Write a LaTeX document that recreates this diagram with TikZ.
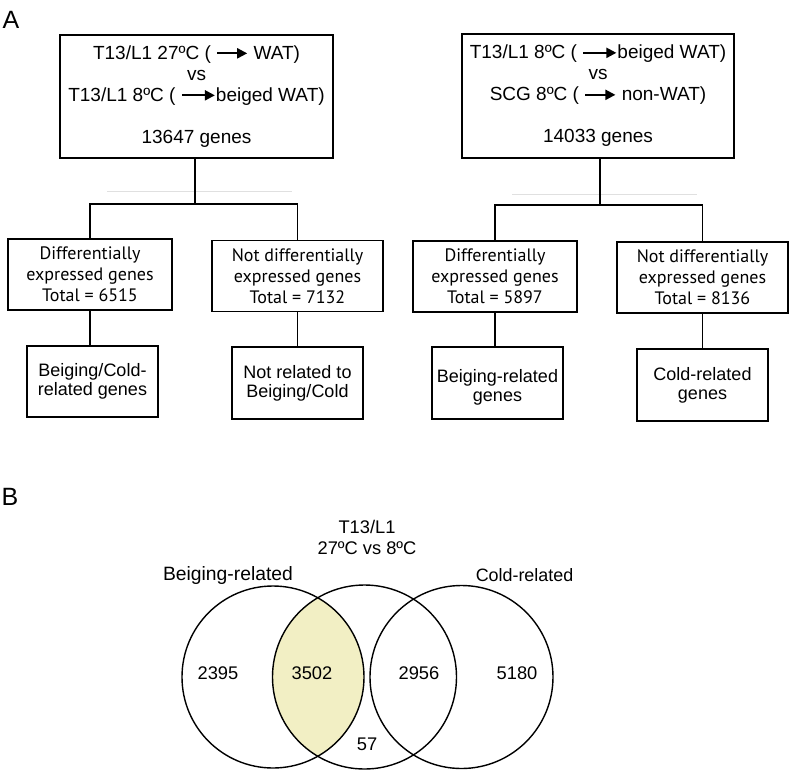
\documentclass[tikz,border=0pt]{standalone}
\usepackage{fontspec}
\setmainfont{Liberation Sans}
\newfontfamily\myr{PT Sans}
\usetikzlibrary{arrows.meta}
\definecolor{lens}{RGB}{242,239,196}
\newcommand\rarr[1]{\tikz[baseline=-0.32em]\draw[line width=2.1pt,-{Triangle[length=10pt,width=10pt]}] (0pt,0pt)--(#1,0pt);}
\tikzset{
  topbox/.style={draw,line width=1.4pt,inner sep=0pt,align=center,font=\fontsize{19}{21}\selectfont},
  midbox/.style={draw,line width=1.4pt,inner sep=0pt,align=center,font=\myr\fontsize{18}{21}\selectfont,minimum width=164pt,minimum height=71pt},
  botbox/.style={draw,line width=1.4pt,inner sep=0pt,align=center,font=\fontsize{18}{19}\selectfont,minimum width=131pt,minimum height=72pt},
  conn/.style={line width=1.4pt},
  faint/.style={line width=0.8pt,black!12},
  venn/.style={line width=1.4pt},
  vtext/.style={font=\fontsize{18.3}{21}\selectfont},
  panel/.style={font=\fontsize{25}{25}\selectfont}
}
\begin{document}
\begin{tikzpicture}[x=1pt,y=-1pt]
\useasboundingbox (0,0) rectangle (790,772);
\node[panel] (pa) at (11,20) {A};
\node[panel] (pb) at (10,497) {B};
% top boxes
\node[topbox,minimum width=273pt,minimum height=123pt] (tl) at (196.5,96.5)
 {T13/L1 27ºC ( \rarr{30pt} WAT)\\vs\\T13/L1 8ºC ( \rarr{33pt}beiged WAT)\\[21pt]13647 genes};
\node[topbox,minimum width=272pt,minimum height=124pt] (tr) at (598,96)
 {T13/L1 8ºC ( \rarr{33pt}beiged WAT)\\vs\\SCG 8ºC ( \rarr{30pt} non-WAT)\\[21pt]14033 genes};
% faint lines
\draw[faint] (107,191) coordinate (fa1) -- (292,191) coordinate (fa2);
\draw[faint] (512,194) coordinate (fb1) -- (697,194) coordinate (fb2);
% middle boxes
\node[midbox] (dl) at (90,274.5) {Differentially\\expressed genes\\Total = 6515};
\node[midbox,minimum width=171pt] (nl) at (297.5,276) {Not differentially\\expressed genes\\Total = 7132};
\node[midbox] (dr) at (495,276.5) {Differentially\\expressed genes\\Total = 5897};
\node[midbox,minimum width=171pt] (nr) at (702.5,277.5) {Not differentially\\expressed genes\\Total = 8136};
% bottom boxes
\node[botbox,minimum height=71pt] (bl1) at (92.5,381.5) {Beiging/Cold-\\related genes};
\node[botbox] (bl2) at (297.5,383) {Not related to\\Beiging/Cold};
\node[botbox] (br1) at (497.5,383) {};
\node[align=center,inner sep=0pt,font=\fontsize{18}{19}\selectfont] (br1t) at (497.5,387.5) {Beiging-related\\genes};
\node[botbox] (br2) at (702.5,385) {Cold-related\\genes};
% connectors
\coordinate (jl) at (195,204);
\coordinate (jr) at (600,205);
\draw[conn] (195,0 |- tl.south) -- (jl);
\draw[conn] (dl.north) |- (jl) -| (nl.north);
\draw[conn] (600,0 |- tr.south) -- (jr);
\draw[conn] (dr.north) |- (jr) -| (nr.north);
\draw[conn] (dl.south) -- (bl1.north -| dl.south);
\draw[conn] (nl.south) -- (bl2.north);
\draw[conn] (dr.south) -- (br1.north -| dr.south);
\draw[conn] (nr.south) -- (br2.north);
% Venn
\begin{scope}
\clip (273,677) circle (91);
\fill[lens] (364.5,677) circle (92);
\end{scope}
\draw[venn] (273,677) circle (91);
\draw[venn] (364.5,677) circle (92);
\draw[venn] (461.5,677) circle (91.5);
\node[vtext,align=center] (vt) at (367,537.5) {T13/L1\\27ºC vs 8ºC};
\node[vtext,font=\fontsize{19.3}{21}\selectfont] (vb) at (228,575) {Beiging-related};
\node[vtext,font=\fontsize{17.9}{21}\selectfont] (vc) at (524.5,575) {Cold-related};
\node[vtext] (n1) at (218,673) {2395};
\node[vtext] (n2) at (312,673) {3502};
\node[vtext] (n3) at (419,673) {2956};
\node[vtext] (n4) at (517,673) {5180};
\node[vtext] (n5) at (367,744) {57};
\end{tikzpicture}
\end{document}
